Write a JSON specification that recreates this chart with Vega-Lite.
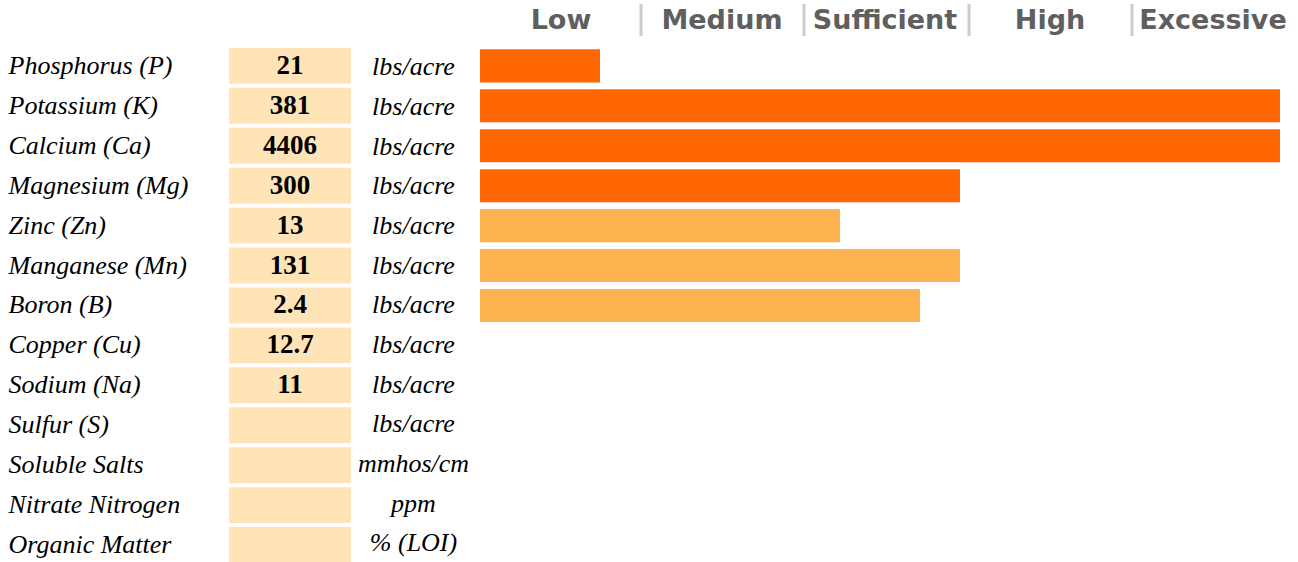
{
  "$schema": "https://vega.github.io/schema/vega-lite/v6.json",
  "padding": {"left": 8, "top": 3, "right": 0, "bottom": 0},
  "autosize": {"type": "pad"},
  "background": "white",
  "config": {"view": {"stroke": null}},
  "spacing": 0,
  "resolve": {"scale": {"y": "independent", "x": "independent"}, "axis": {"y": "independent"}},
  "datasets": {
    "nutrients": [
      {"name": "Phosphorus (P)", "result": "21", "unit": "lbs/acre", "level": 15, "group": "major"},
      {"name": "Potassium (K)", "result": "381", "unit": "lbs/acre", "level": 100, "group": "major"},
      {"name": "Calcium (Ca)", "result": "4406", "unit": "lbs/acre", "level": 100, "group": "major"},
      {"name": "Magnesium (Mg)", "result": "300", "unit": "lbs/acre", "level": 60, "group": "major"},
      {"name": "Zinc (Zn)", "result": "13", "unit": "lbs/acre", "level": 45, "group": "micro"},
      {"name": "Manganese (Mn)", "result": "131", "unit": "lbs/acre", "level": 60, "group": "micro"},
      {"name": "Boron (B)", "result": "2.4", "unit": "lbs/acre", "level": 55, "group": "micro"},
      {"name": "Copper (Cu)", "result": "12.7", "unit": "lbs/acre", "level": null, "group": "micro"},
      {"name": "Sodium (Na)", "result": "11", "unit": "lbs/acre", "level": null, "group": "micro"},
      {"name": "Sulfur (S)", "result": "", "unit": "lbs/acre", "level": null, "group": "micro"},
      {"name": "Soluble Salts", "result": "", "unit": "mmhos/cm", "level": null, "group": "micro"},
      {"name": "Nitrate Nitrogen", "result": "", "unit": "ppm", "level": null, "group": "micro"},
      {"name": "Organic Matter", "result": "", "unit": "% (LOI)", "level": null, "group": "micro"}
    ],
    "ratings": [
      {"label": "Low", "start": 0},
      {"label": "Medium", "start": 20.125},
      {"label": "Sufficient", "start": 40.5},
      {"label": "High", "start": 61.125},
      {"label": "Excessive", "start": 81.5}
    ]
  },
  "hconcat": [
    {
      "width": 122,
      "height": 555,
      "data": {"name": "nutrients"},
      "encoding": {
        "y": {
          "field": "name",
          "type": "nominal",
          "scale": {
            "domain": ["HEADER", "Phosphorus (P)", "Potassium (K)", "Calcium (Ca)", "Magnesium (Mg)", "Zinc (Zn)", "Manganese (Mn)", "Boron (B)", "Copper (Cu)", "Sodium (Na)", "Sulfur (S)", "Soluble Salts", "Nitrate Nitrogen", "Organic Matter"],
            "paddingInner": 0.1,
            "paddingOuter": 0
          },
          "axis": {
            "title": null,
            "orient": "left",
            "domain": false,
            "ticks": false,
            "tickSize": 0,
            "labelAlign": "left",
            "labelBaseline": "middle",
            "labelPadding": 221,
            "labelFont": "Liberation Serif",
            "labelFontStyle": "italic",
            "labelFontSize": 26,
            "labelColor": "black",
            "labelLimit": 0,
            "labelExpr": "datum.value == 'HEADER' ? '' : datum.value"
          }
        }
      },
      "layer": [
        {"mark": {"type": "rect", "fill": "#FEE4B6"}},
        {
          "mark": {"type": "text", "font": "Liberation Serif", "fontWeight": "bold", "fontSize": 27, "color": "black", "baseline": "middle"},
          "encoding": {"text": {"field": "result"}}
        }
      ]
    },
    {
      "width": 129,
      "height": 555,
      "data": {"name": "nutrients"},
      "mark": {"type": "text", "font": "Liberation Serif", "fontStyle": "italic", "fontSize": 26, "color": "black", "baseline": "middle", "dx": -2},
      "encoding": {
        "y": {
          "field": "name",
          "type": "nominal",
          "scale": {
            "domain": ["HEADER", "Phosphorus (P)", "Potassium (K)", "Calcium (Ca)", "Magnesium (Mg)", "Zinc (Zn)", "Manganese (Mn)", "Boron (B)", "Copper (Cu)", "Sodium (Na)", "Sulfur (S)", "Soluble Salts", "Nitrate Nitrogen", "Organic Matter"],
            "paddingInner": 0.1,
            "paddingOuter": 0
          },
          "axis": null
        },
        "text": {"field": "unit"}
      }
    },
    {
      "width": 818,
      "height": 555,
      "layer": [
        {
          "data": {"name": "nutrients"},
          "transform": [{"filter": "datum.level != null"}],
          "mark": {"type": "bar", "height": {"band": 0.92}},
          "encoding": {
            "y": {
              "field": "name",
              "type": "nominal",
              "scale": {
                "domain": ["HEADER", "Phosphorus (P)", "Potassium (K)", "Calcium (Ca)", "Magnesium (Mg)", "Zinc (Zn)", "Manganese (Mn)", "Boron (B)", "Copper (Cu)", "Sodium (Na)", "Sulfur (S)", "Soluble Salts", "Nitrate Nitrogen", "Organic Matter"],
                "paddingInner": 0.1,
                "paddingOuter": 0
              },
              "axis": null
            },
            "x": {"field": "level", "type": "quantitative", "scale": {"domain": [0, 102.25], "nice": false, "zero": true}, "axis": null},
            "color": {"field": "group", "type": "nominal", "scale": {"domain": ["major", "micro"], "range": ["#FF6600", "#FDB14F"]}, "legend": null}
          }
        },
        {
          "data": {"name": "ratings"},
          "mark": {"type": "text", "font": "DejaVu Sans", "fontWeight": "bold", "fontSize": 27, "color": "#5f5f5f", "align": "center", "baseline": "middle", "dx": 81, "dy": -5},
          "encoding": {
            "y": {
              "datum": "HEADER",
              "type": "nominal",
              "scale": {
                "domain": ["HEADER", "Phosphorus (P)", "Potassium (K)", "Calcium (Ca)", "Magnesium (Mg)", "Zinc (Zn)", "Manganese (Mn)", "Boron (B)", "Copper (Cu)", "Sodium (Na)", "Sulfur (S)", "Soluble Salts", "Nitrate Nitrogen", "Organic Matter"],
                "paddingInner": 0.1,
                "paddingOuter": 0
              },
              "axis": null
            },
            "x": {"field": "start", "type": "quantitative", "axis": null},
            "text": {"field": "label"}
          }
        },
        {
          "data": {"name": "ratings"},
          "transform": [{"filter": "datum.start > 0"}],
          "mark": {"type": "tick", "size": 32, "thickness": 3, "color": "#cccccc", "opacity": 1, "yOffset": -6},
          "encoding": {
            "y": {
              "datum": "HEADER",
              "type": "nominal",
              "scale": {
                "domain": ["HEADER", "Phosphorus (P)", "Potassium (K)", "Calcium (Ca)", "Magnesium (Mg)", "Zinc (Zn)", "Manganese (Mn)", "Boron (B)", "Copper (Cu)", "Sodium (Na)", "Sulfur (S)", "Soluble Salts", "Nitrate Nitrogen", "Organic Matter"],
                "paddingInner": 0.1,
                "paddingOuter": 0
              },
              "axis": null
            },
            "x": {"field": "start", "type": "quantitative", "axis": null}
          }
        }
      ]
    }
  ]
}
